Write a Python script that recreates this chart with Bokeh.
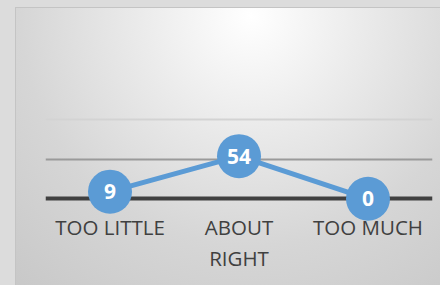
from bokeh.plotting import figure
from bokeh.models import Range1d, FactorRange, Grid, FixedTicker, ColumnDataSource
from bokeh.core.properties import value
from bokeh.embed import file_html
from bokeh.resources import INLINE

categories = ["TOO LITTLE", "ABOUT RIGHT", "TOO MUCH"]
tick_labels = ["TOO LITTLE", "ABOUT\nRIGHT", "TOO MUCH"]
values = [9, 54, 0]
gridlines = [0, 50, 100]
grid_colors = ["#404040", "#9a9a9a", "#d3d3d3"]
grid_widths = [4, 2, 2]

src = ColumnDataSource(dict(
    x=categories,
    y=values,
    lab=[str(v) for v in values],
    tick=tick_labels,
    base=[0] * len(categories),
))

p = figure(
    width=440, height=285,
    x_range=FactorRange(*categories, range_padding=0),
    y_range=Range1d(-109.9, 251.3),
    output_backend="svg", toolbar_location=None,
    min_border_left=45, min_border_right=8, min_border_top=0, min_border_bottom=0,
)
p.axis.visible = False
p.xgrid.visible = False
p.ygrid.visible = False
p.outline_line_color = None
p.background_fill_alpha = 0
p.border_fill_alpha = 0
p.styles = {
    "background": (
        "linear-gradient(#c4c4c4,#c4c4c4) 15px 7px / 1px 100% no-repeat, "
        "linear-gradient(#c4c4c4,#c4c4c4) 15px 7px / 100% 1px no-repeat, "
        "radial-gradient(circle at 235px 8px, #ffffff 0px, #ebebeb 110px, #d6d6d6 230px, #c8c8c8 360px) "
        "16px 8px / calc(100% - 16px) calc(100% - 8px) no-repeat, #dcdcdc"
    )
}

for v, c, w in zip(gridlines, grid_colors, grid_widths):
    g = Grid(dimension=1, ticker=FixedTicker(ticks=[v]), grid_line_color=c, grid_line_width=w)
    p.add_layout(g, "center")

p.line("x", "y", source=src, line_color="#5b9bd5", line_width=5)
p.scatter("x", "y", source=src, size=44, fill_color="#5b9bd5", line_color=None)
p.text("x", "y", text="lab", source=src, text_color="white",
       text_font=value("Open Sans"), text_font_style="bold", text_font_size="21px",
       text_align="center", text_baseline="middle")
p.text("x", "base", text="tick", source=src, text_color="#404040",
       text_font=value("Open Sans"), text_font_size="20.5px", text_line_height=1.1,
       text_align="center", text_baseline="top", y_offset=14)

open("out.html", "w").write(file_html(p, INLINE))
